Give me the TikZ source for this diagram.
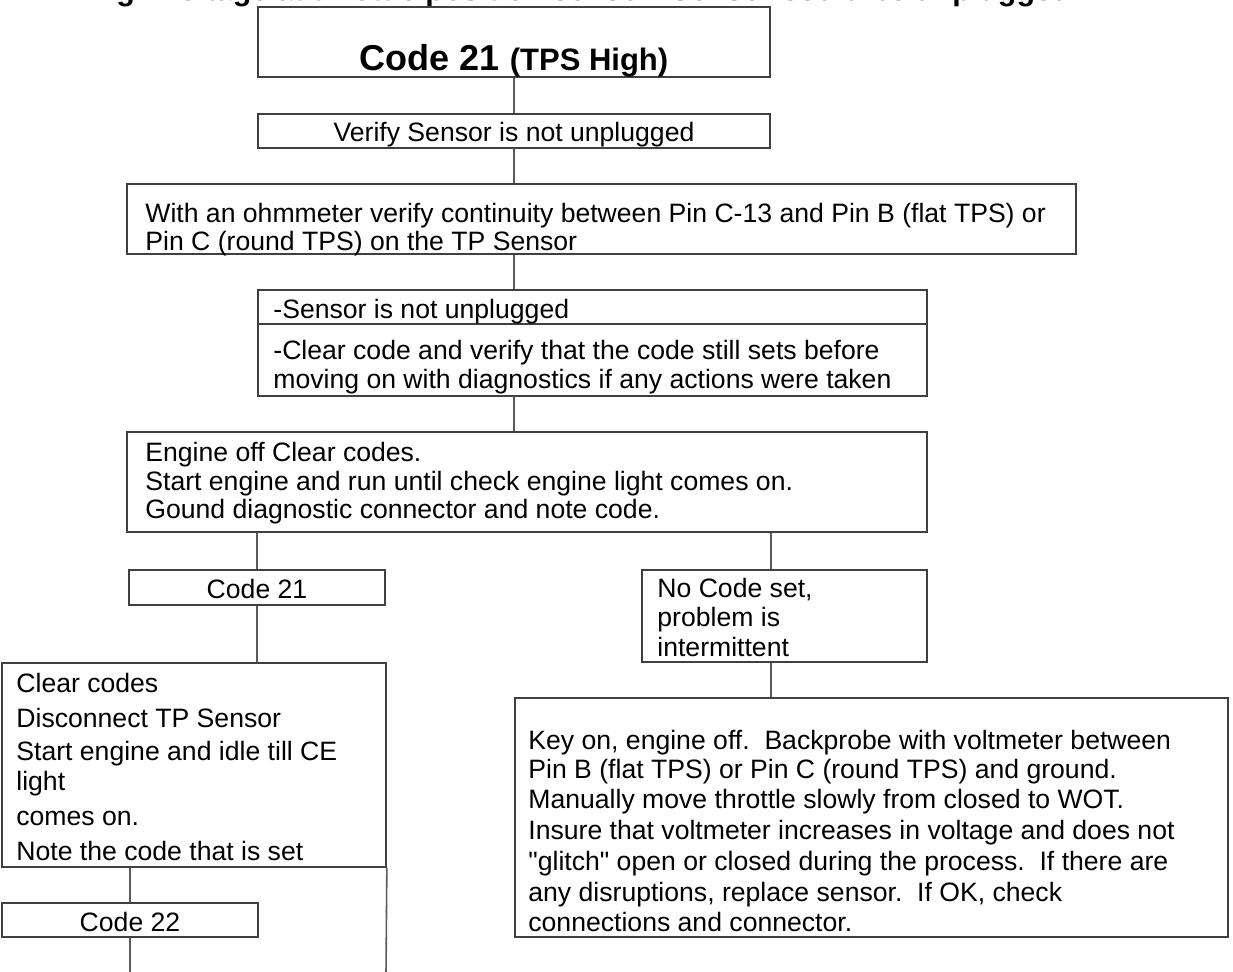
\documentclass[tikz,border=0pt]{standalone}
\usepackage{fontspec}
\setmainfont{Liberation Sans}
\usetikzlibrary{fit}
\definecolor{boxc}{HTML}{404040}
\definecolor{linec}{HTML}{5A5A5A}
\begin{document}
\begin{tikzpicture}[x=0.5pt,y=-0.5pt,
  box/.style={draw=boxc, line width=0.85pt, inner sep=0pt},
  conn/.style={draw=linec, line width=0.8pt},
  txt/.style={inner sep=0pt, font=\fontsize{13.3}{15}\selectfont, anchor=base west},
  ctxt/.style={txt, anchor=base}]
\useasboundingbox (0,0) rectangle (1233,972);

% clipped heading
\node[txt, font=\fontsize{15.2}{17}\selectfont\bfseries] (head) at (32,0.5)
  {22. High voltage at throttle position sensor- Sensor could be unplugged.};

% boxes
\node[box, fit={(258,7)(770,77)}] (b1) {};
\node[box, fit={(258,114)(770,148)}] (b2) {};
\node[box, fit={(127,184)(1076,254)}] (b3) {};
\node[box, fit={(258,290)(927,396)}] (b4) {};
\node[box, fit={(127,432)(927,532)}] (b5) {};
\node[box, fit={(129,570)(385,605)}] (b6) {};
\node[box, fit={(642,570)(927,662)}] (b7) {};
\node[box, fit={(2,663)(386,867)}] (b8) {};
\node[box, fit={(515,698)(1228,937)}] (b9) {};
\node[box, fit={(2,903)(258,937)}] (b10) {};
\draw[box] (b4.west |- 0,324) -- (b4.east |- 0,324);

% texts
\node[ctxt] (t1) at (514,71) {\fontsize{18}{20}\selectfont\bfseries Code 21 \fontsize{15.5}{17}\selectfont(TPS High)};
\node[ctxt] (t2) at (514,142) {Verify Sensor is not unplugged};
\node[txt] (t3a) at (145,222.5) {With an ohmmeter verify continuity between Pin C-13 and Pin B (flat TPS) or};
\node[txt] (t3b) at (145,251) {Pin C (round TPS) on the TP Sensor};
\node[txt] (t4a) at (273,318.5) {-Sensor is not unplugged};
\node[txt] (t4b) at (273,360) {-Clear code and verify that the code still sets before};
\node[txt] (t4c) at (273,388.5) {moving on with diagnostics if any actions were taken};
\node[txt] (t5a) at (145,461.5) {Engine off Clear codes.};
\node[txt] (t5b) at (145,490.5) {Start engine and run until check engine light comes on.};
\node[txt] (t5c) at (145,518.5) {Gound diagnostic connector and note code.};
\node[ctxt] (t6) at (257,599) {Code 21};
\node[txt] (t7a) at (657,598) {No Code set,};
\node[txt] (t7b) at (657,627) {problem is};
\node[txt] (t7c) at (657,657) {intermittent};
\node[txt] (t8a) at (16,693) {Clear codes};
\node[txt] (t8b) at (16,728) {Disconnect TP Sensor};
\node[txt] (t8c) at (16,761) {Start engine and idle till CE};
\node[txt] (t8d) at (16,791) {light};
\node[txt] (t8e) at (16,826) {comes on.};
\node[txt] (t8f) at (16,861) {Note the code that is set};
\node[txt] (t9a) at (528,750) {Key on, engine off.\ \ Backprobe with voltmeter between};
\node[txt] (t9b) at (528,779) {Pin B (flat TPS) or Pin C (round TPS) and ground.};
\node[txt] (t9c) at (528,809) {Manually move throttle slowly from closed to WOT.};
\node[txt] (t9d) at (528,840) {Insure that voltmeter increases in voltage and does not};
\node[txt] (t9e) at (528,871) {\textquotedbl glitch\textquotedbl{} open or closed during the process.\ \ If there are};
\node[txt] (t9f) at (528,902) {any disruptions, replace sensor.\ \ If OK, check};
\node[txt] (t9g) at (528,932) {connections and connector.};
\node[ctxt] (t10) at (130,932) {Code 22};

% connectors
\coordinate (e1) at (130,975);
\coordinate (e2) at (386,975);
\draw[conn] (b1.south) -- (b2.north);
\draw[conn] (b2.south) -- (b2.south |- b3.north);
\draw[conn] (b3.south -| b2.south) -- (b4.north -| b2.south);
\draw[conn] (b4.south -| b2.south) -- (b5.north -| b2.south);
\draw[conn] (b6.north |- b5.south) -- (b6.north);
\draw[conn] (b5.south -| b1.east) -- (b7.north -| b1.east);
\draw[conn] (b6.south) -- (b6.south |- b8.north);
\draw[conn] (b7.south -| b1.east) -- (b9.north -| b1.east);
\draw[conn] (b10.north |- b8.south) -- (b10.north);
\draw[conn] (b10.south) -- (b10.south |- e1);
\draw[conn] (b8.south east) -- (e2);
\end{tikzpicture}
\end{document}
